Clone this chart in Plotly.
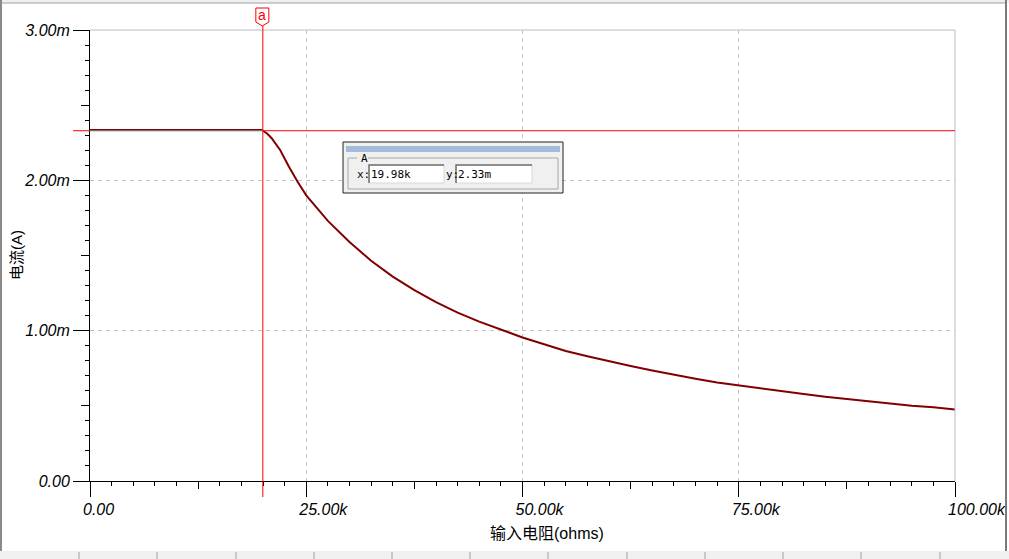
import plotly.graph_objects as go

# ---- data ----
resistance_ohm = [20000, 20500, 21000, 22000, 23000, 24000, 25000, 26000, 27500, 30000,
                  32500, 35000, 37500, 40000, 42500, 45000, 47500, 50000, 52500, 55000,
                  57500, 60000, 62500, 65000, 67500, 70000, 72500, 75000, 77500, 80000,
                  82500, 85000, 87500, 90000, 92500, 95000, 97500, 100000]
current_a = [2.33e-3, 2.31e-3, 2.28e-3, 2.20e-3, 2.09e-3, 1.99e-3, 1.90e-3, 1.83e-3, 1.73e-3, 1.59e-3,
             1.465e-3, 1.36e-3, 1.27e-3, 1.19e-3, 1.12e-3, 1.06e-3, 1.005e-3, 0.955e-3, 0.91e-3, 0.865e-3,
             0.83e-3, 0.795e-3, 0.765e-3, 0.735e-3, 0.705e-3, 0.68e-3, 0.655e-3, 0.635e-3, 0.615e-3, 0.595e-3,
             0.578e-3, 0.56e-3, 0.545e-3, 0.53e-3, 0.515e-3, 0.50e-3, 0.49e-3, 0.475e-3]

x_tick_vals = [0, 25000, 50000, 75000, 100000]
x_tick_text = ["0.00", "25.00k", "50.00k", "75.00k", "100.00k"]
x_mid_ticks = [12500, 37500, 62500, 87500]
y_tick_vals = [0, 1e-3, 2e-3, 3e-3]
y_tick_text = ["0.00", "1.00m", "2.00m", "3.00m"]
y_mid_ticks = [0.5e-3, 1.5e-3, 2.5e-3]

cursor_name = "a"
cursor_x = 19980
cursor_y = 2.33e-3
cursor_x_text = "19.98k"
cursor_y_text = "2.33m"

x_title = "输入电阻(ohms)"
y_title = "电流(A)"

# ---- layout geometry (pixels) ----
W, H = 1009, 559
L, R, T, B = 90, 955, 30, 481


def px(x):
    return (x - L) / (R - L)


def py(y):
    return (B - y) / (B - T)


FONT = "Liberation Sans, Arial, Noto Sans CJK SC, sans-serif"
MONO = "DejaVu Sans Mono, Liberation Mono, monospace"

fig = go.Figure()
fig.add_trace(go.Scatter(x=resistance_ohm, y=current_a, mode="lines",
                         line=dict(color="#800000", width=2), hoverinfo="skip",
                         showlegend=False))
# dummy trace for the overlay axes (medium ticks)
fig.add_trace(go.Scatter(x=[None], y=[None], xaxis="x2", yaxis="y2", mode="lines",
                         showlegend=False, hoverinfo="skip"))

tickfont = dict(family=FONT, size=16, color="black", style="italic")

fig.update_layout(
    width=W, height=H, autosize=False,
    margin=dict(l=L, r=W - R, t=T, b=H - B, pad=0, autoexpand=False),
    paper_bgcolor="white", plot_bgcolor="white",
    showlegend=False,
    xaxis=dict(range=[0, 100000], tickvals=x_tick_vals, ticktext=x_tick_text,
               ticks="outside", ticklen=15, tickcolor="black", tickwidth=1,
               showline=True, linecolor="black", linewidth=1,
               showgrid=True, gridcolor="#c4c4c4", griddash="4px,4px", gridwidth=1,
               zeroline=False, tickfont=tickfont, automargin=False,
               ticklabelposition="outside right", ticklabelshift=-8, ticklabelstandoff=14,
               minor=dict(dtick=2500, ticks="outside", ticklen=4, tickcolor="black",
                          showgrid=False),
               fixedrange=True),
    yaxis=dict(range=[0, 3e-3], tickvals=y_tick_vals, ticktext=y_tick_text,
               ticks="outside", ticklen=16, tickcolor="black", tickwidth=1,
               showline=True, linecolor="black", linewidth=1,
               showgrid=True, gridcolor="#c4c4c4", griddash="4px,4px", gridwidth=1,
               zeroline=False, tickfont=tickfont, automargin=False,
               minor=dict(dtick=1e-4, ticks="outside", ticklen=4, tickcolor="black",
                          showgrid=False),
               fixedrange=True),
    xaxis2=dict(overlaying="x", matches="x", side="bottom", anchor="y2", automargin=False,
                tickvals=x_mid_ticks, ticks="outside", ticklen=7, tickcolor="black",
                showticklabels=False, showgrid=False, showline=False, zeroline=False),
    yaxis2=dict(overlaying="y", matches="y", side="left", anchor="x2", automargin=False,
                tickvals=y_mid_ticks, ticks="outside", ticklen=8, tickcolor="black",
                showticklabels=False, showgrid=False, showline=False, zeroline=False),
)

shapes = []
# window chrome
shapes.append(dict(type="rect", xref="paper", yref="paper", x0=px(0), x1=px(W), y0=py(0), y1=py(3),
                   fillcolor="#f0f0f0", line=dict(width=0), layer="below"))
shapes.append(dict(type="line", xref="paper", yref="paper", x0=px(0), x1=px(1006), y0=py(3), y1=py(3),
                   line=dict(color="#a0a0a0", width=1)))
shapes.append(dict(type="rect", xref="paper", yref="paper", x0=px(0), x1=px(2), y0=py(0), y1=py(552),
                   fillcolor="#8a8a8a", line=dict(width=0)))
shapes.append(dict(type="rect", xref="paper", yref="paper", x0=px(1005), x1=px(1007), y0=py(0), y1=py(552),
                   fillcolor="#7a7a7a", line=dict(width=0)))
shapes.append(dict(type="rect", xref="paper", yref="paper", x0=px(0), x1=px(W), y0=py(551), y1=py(H),
                   fillcolor="#f0f0f0", line=dict(width=0)))
for sx in [79, 157, 236, 314, 392, 470, 548, 627, 705, 783, 861, 940]:
    shapes.append(dict(type="line", xref="paper", yref="paper", x0=px(sx), x1=px(sx), y0=py(552), y1=py(H),
                       line=dict(color="#a0a0a0", width=1)))
# plot frame (top / right)
shapes.append(dict(type="line", xref="paper", yref="paper", x0=0, x1=1, y0=1, y1=1,
                   line=dict(color="#bcbcbc", width=1)))
shapes.append(dict(type="line", xref="paper", yref="paper", x0=1, x1=1, y0=0, y1=1,
                   line=dict(color="#bcbcbc", width=1)))
# cursor lines
shapes.append(dict(type="line", xref="paper", yref="y", x0=px(73), x1=1, y0=cursor_y, y1=cursor_y,
                   line=dict(color="#ff0000", width=1)))
shapes.append(dict(type="line", xref="x", yref="y", x0=0, x1=cursor_x,
                   ysizemode="pixel", yanchor=cursor_y, y0=1, y1=1,
                   line=dict(color="#800000", width=1.5)))
shapes.append(dict(type="line", xref="x", yref="y", x0=0, x1=cursor_x,
                   ysizemode="pixel", yanchor=cursor_y, y0=-0.5, y1=-0.5,
                   line=dict(color="#7fffff", width=1)))
shapes.append(dict(type="line", xref="x", yref="paper", x0=cursor_x, x1=cursor_x, y0=py(497), y1=py(26),
                   line=dict(color="#ff0000", width=1)))
shapes.append(dict(type="path", xref="x", yref="paper", xsizemode="pixel", xanchor=cursor_x,
                   ysizemode="pixel", yanchor=1,
                   path="M -7,8 L -7,22 L 6,22 L 6,8 L -0.5,4 Z",
                   fillcolor="white", line=dict(color="#ff0000", width=1)))
# readout dialog
shapes.append(dict(type="rect", xref="paper", yref="paper", x0=px(343), x1=px(563), y0=py(142), y1=py(193),
                   fillcolor="#f0f0f0", line=dict(color="#202020", width=1)))
shapes.append(dict(type="rect", xref="paper", yref="paper", x0=px(346), x1=px(560), y0=py(146), y1=py(152),
                   fillcolor="#a3bcd9", line=dict(width=0)))
shapes.append(dict(type="rect", xref="paper", yref="paper", x0=px(348), x1=px(558), y0=py(158), y1=py(189),
                   fillcolor="rgba(0,0,0,0)", line=dict(color="#a8a8a8", width=1)))
shapes.append(dict(type="rect", xref="paper", yref="paper", x0=px(357), x1=px(368), y0=py(155), y1=py(161),
                   fillcolor="#f0f0f0", line=dict(width=0)))
for bx0, bx1 in [(369, 444), (456, 532)]:
    shapes.append(dict(type="rect", xref="paper", yref="paper", x0=px(bx0), x1=px(bx1), y0=py(165), y1=py(183),
                       fillcolor="white", line=dict(color="#d8d8d8", width=1)))
    shapes.append(dict(type="path", xref="paper", yref="paper",
                       path=f"M {px(bx0)},{py(183)} L {px(bx0)},{py(165)} L {px(bx1)},{py(165)}",
                       line=dict(color="#707070", width=1.5)))
fig.update_layout(shapes=shapes)

ann = []
ann.append(dict(text=cursor_name, xref="x", yref="paper", x=cursor_x, y=1, yshift=15,
                xanchor="center", yanchor="middle", showarrow=False, xshift=-1,
                font=dict(family=FONT, size=14, color="#ff0000")))
ann.append(dict(text=y_title, xref="paper", yref="paper", x=px(16), y=py(255), textangle=-90,
                xanchor="center", yanchor="middle", showarrow=False,
                font=dict(family=FONT, size=15, color="black")))
ann.append(dict(text=x_title, xref="paper", yref="paper", x=px(547), y=py(533),
                xanchor="center", yanchor="middle", showarrow=False,
                font=dict(family=FONT, size=16, color="black")))
ann.append(dict(text="A", xref="paper", yref="paper", x=px(359), y=py(158),
                xanchor="left", yanchor="middle", showarrow=False,
                font=dict(family=MONO, size=11, color="black")))
ann.append(dict(text="x:", xref="paper", yref="paper", x=px(355), y=py(174),
                xanchor="left", yanchor="middle", showarrow=False,
                font=dict(family=MONO, size=11, color="black")))
ann.append(dict(text="y:", xref="paper", yref="paper", x=px(444), y=py(174),
                xanchor="left", yanchor="middle", showarrow=False,
                font=dict(family=MONO, size=11, color="black")))
ann.append(dict(text=cursor_x_text, xref="paper", yref="paper", x=px(369), y=py(174),
                xanchor="left", yanchor="middle", showarrow=False,
                font=dict(family=MONO, size=11, color="black")))
ann.append(dict(text=cursor_y_text, xref="paper", yref="paper", x=px(456), y=py(174),
                xanchor="left", yanchor="middle", showarrow=False,
                font=dict(family=MONO, size=11, color="black")))
fig.update_layout(annotations=ann)

fig.write_html("out.html", config={"displayModeBar": False},
               post_script="document.body.style.margin='0';document.body.style.overflow='hidden';")
